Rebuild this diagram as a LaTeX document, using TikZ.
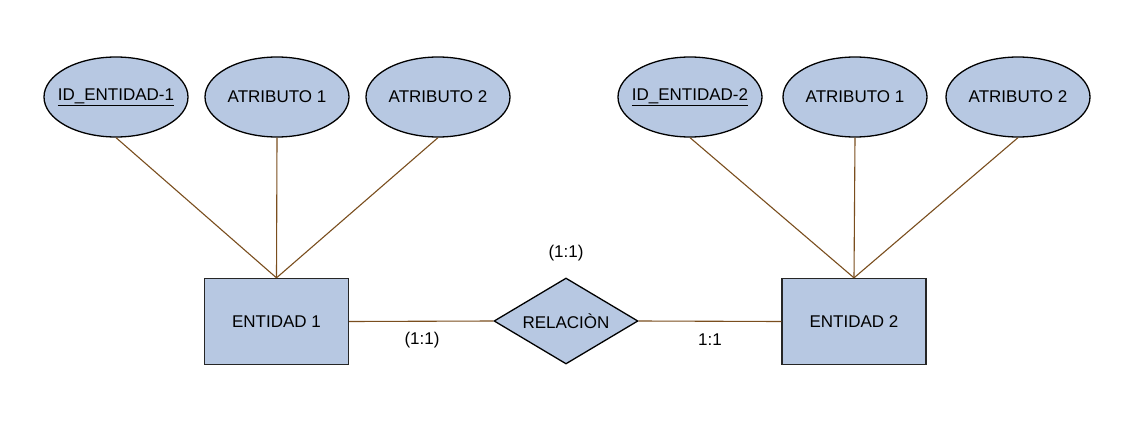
\documentclass[tikz,border=0pt]{standalone}
\usepackage{fontspec}
\setmainfont{Liberation Sans}
\usetikzlibrary{shapes.geometric}
\definecolor{fillb}{HTML}{B7C8E2}
\definecolor{linkc}{HTML}{7A4E1E}
\newcommand{\zw}[1]{\makebox[0pt]{#1}}
\begin{document}
\begin{tikzpicture}[x=1pt,y=-1pt,
  every node/.style={font=\fontsize{17}{20}\selectfont},
  attr/.style={ellipse,draw=black,fill=fillb,line width=1.3pt,minimum width=144pt,minimum height=80pt,inner sep=0pt},
  ent/.style={rectangle,draw=black!85,fill=fillb,line width=1.3pt,minimum width=144pt,minimum height=86pt,inner sep=0pt},
  rel/.style={diamond,draw=black,fill=fillb,line width=1.3pt,minimum width=144pt,minimum height=86pt,inner sep=0pt,aspect=1.67},
  link/.style={draw=linkc,line width=1.1pt},
  lbl/.style={inner sep=0pt}]
\fill[white] (0,0) rectangle (1133,431);
\node[attr] (id1) at (116,97) {\zw{\underline{ID\_ENTIDAD-1}}};
\node[attr] (a11) at (277,97) {\zw{ATRIBUTO 1}};
\node[attr] (a12) at (438,97) {\zw{ATRIBUTO 2}};
\node[attr] (id2) at (690,97) {\zw{\underline{ID\_ENTIDAD-2}}};
\node[attr] (a21) at (855,97) {\zw{ATRIBUTO 1}};
\node[attr] (a22) at (1018,97) {\zw{ATRIBUTO 2}};
\node[ent] (e1) at (276.5,321.5) {ENTIDAD 1};
\node[ent] (e2) at (854,321.5) {ENTIDAD 2};
\node[rel] (r) at (566,321) {\zw{RELACIÒN}};
\draw[link] (id1.south) -- (e1.north);
\draw[link] (a11.south) -- (e1.north);
\draw[link] (a12.south) -- (e1.north);
\draw[link] (id2.south) -- (e2.north);
\draw[link] (a21.south) -- (e2.north);
\draw[link] (a22.south) -- (e2.north);
\draw[link] (e1.east) -- (r.west);
\draw[link] (r.east) -- (e2.west);
\node[lbl] (l1) at (566,253) {(1:1)};
\node[lbl] (l2) at (422,340) {(1:1)};
\node[lbl] (l3) at (710,340) {1:1};
\end{tikzpicture}
\end{document}
